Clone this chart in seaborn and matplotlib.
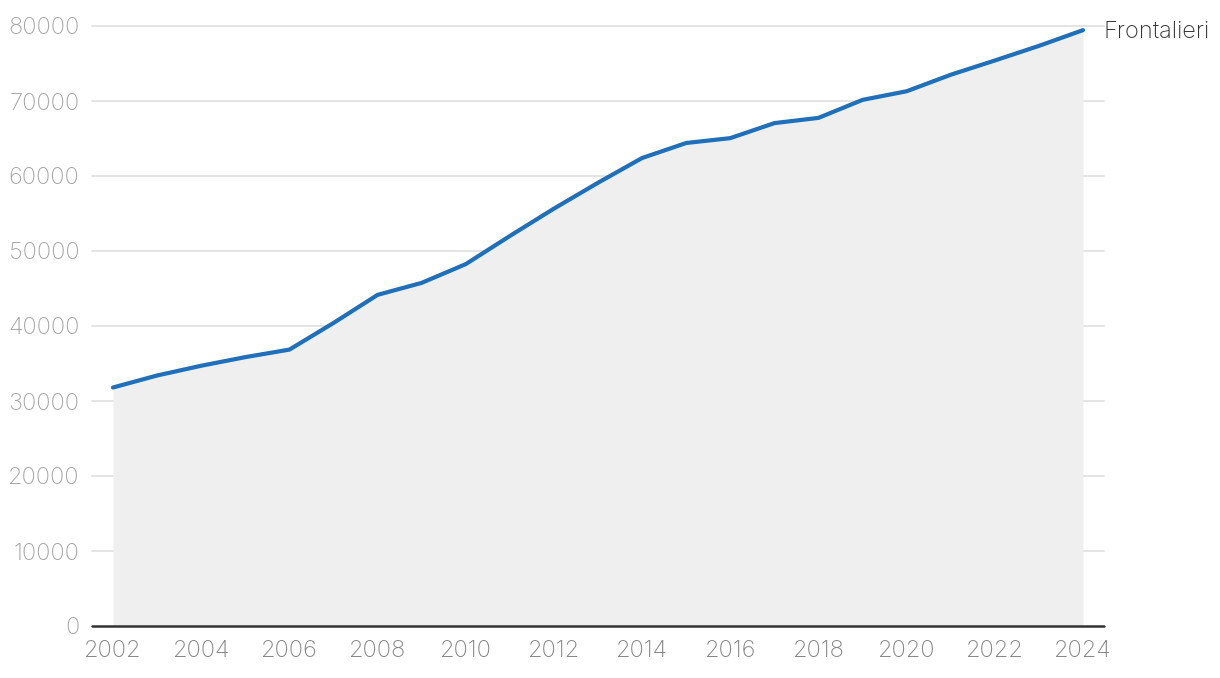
import matplotlib
matplotlib.use("Agg")
import matplotlib.pyplot as plt
import seaborn as sns
import pandas as pd

years = list(range(2002, 2025))
frontalieri = [31800, 33400, 34700, 35850, 36850, 40400, 44150, 45750, 48250,
               52000, 55650, 59100, 62400, 64400, 65050, 67050, 67750, 70150,
               71300, 73500, 75400, 77350, 79450]
series_label = "Frontalieri"
yticks = [0, 10000, 20000, 30000, 40000, 50000, 60000, 70000, 80000]
xticks = list(range(2002, 2025, 2))

df = pd.DataFrame({"year": years, "value": frontalieri})

sns.set_theme(style="white")
plt.rcParams['font.family'] = ['Inter', 'DejaVu Sans']

fig = plt.figure(figsize=(12.2, 6.78), dpi=100)
ax = fig.add_axes([92/1220, 52/678, (1104-92)/1220, 600/678])

ax.fill_between(df["year"], 0, df["value"], color="#efefef", linewidth=0, zorder=1)
sns.lineplot(data=df, x="year", y="value", ax=ax, color="#1f6fba", linewidth=3, zorder=3)

ax.set_xlim(2001.524, 2024.476)
ax.set_ylim(0, 80000)
ax.set_yticks(yticks)
ax.set_yticklabels([str(v) for v in yticks], fontweight="light")
ax.set_xticks(xticks)
ax.set_xticklabels([str(v) for v in xticks], fontweight="light")
ax.set_xlabel("")
ax.set_ylabel("")

for v in yticks[1:]:
    ax.axhline(v, color="#e2e2e2", linewidth=1.3, zorder=0, clip_on=False)
ax.axhline(0, color="#333333", linewidth=1.8, zorder=4, clip_on=False)

for s in ax.spines.values():
    s.set_visible(False)

ax.tick_params(axis="y", length=0, pad=9, labelsize=17, labelcolor="#a6a6a6")
ax.tick_params(axis="x", length=0, pad=10, labelsize=17, labelcolor="#858585")

ax.text(1104/1220, (678-32)/678, series_label, transform=fig.transFigure,
        ha="left", va="center", fontsize=17, color="#333333", fontweight="light")

fig.savefig("out.png", dpi=100)
